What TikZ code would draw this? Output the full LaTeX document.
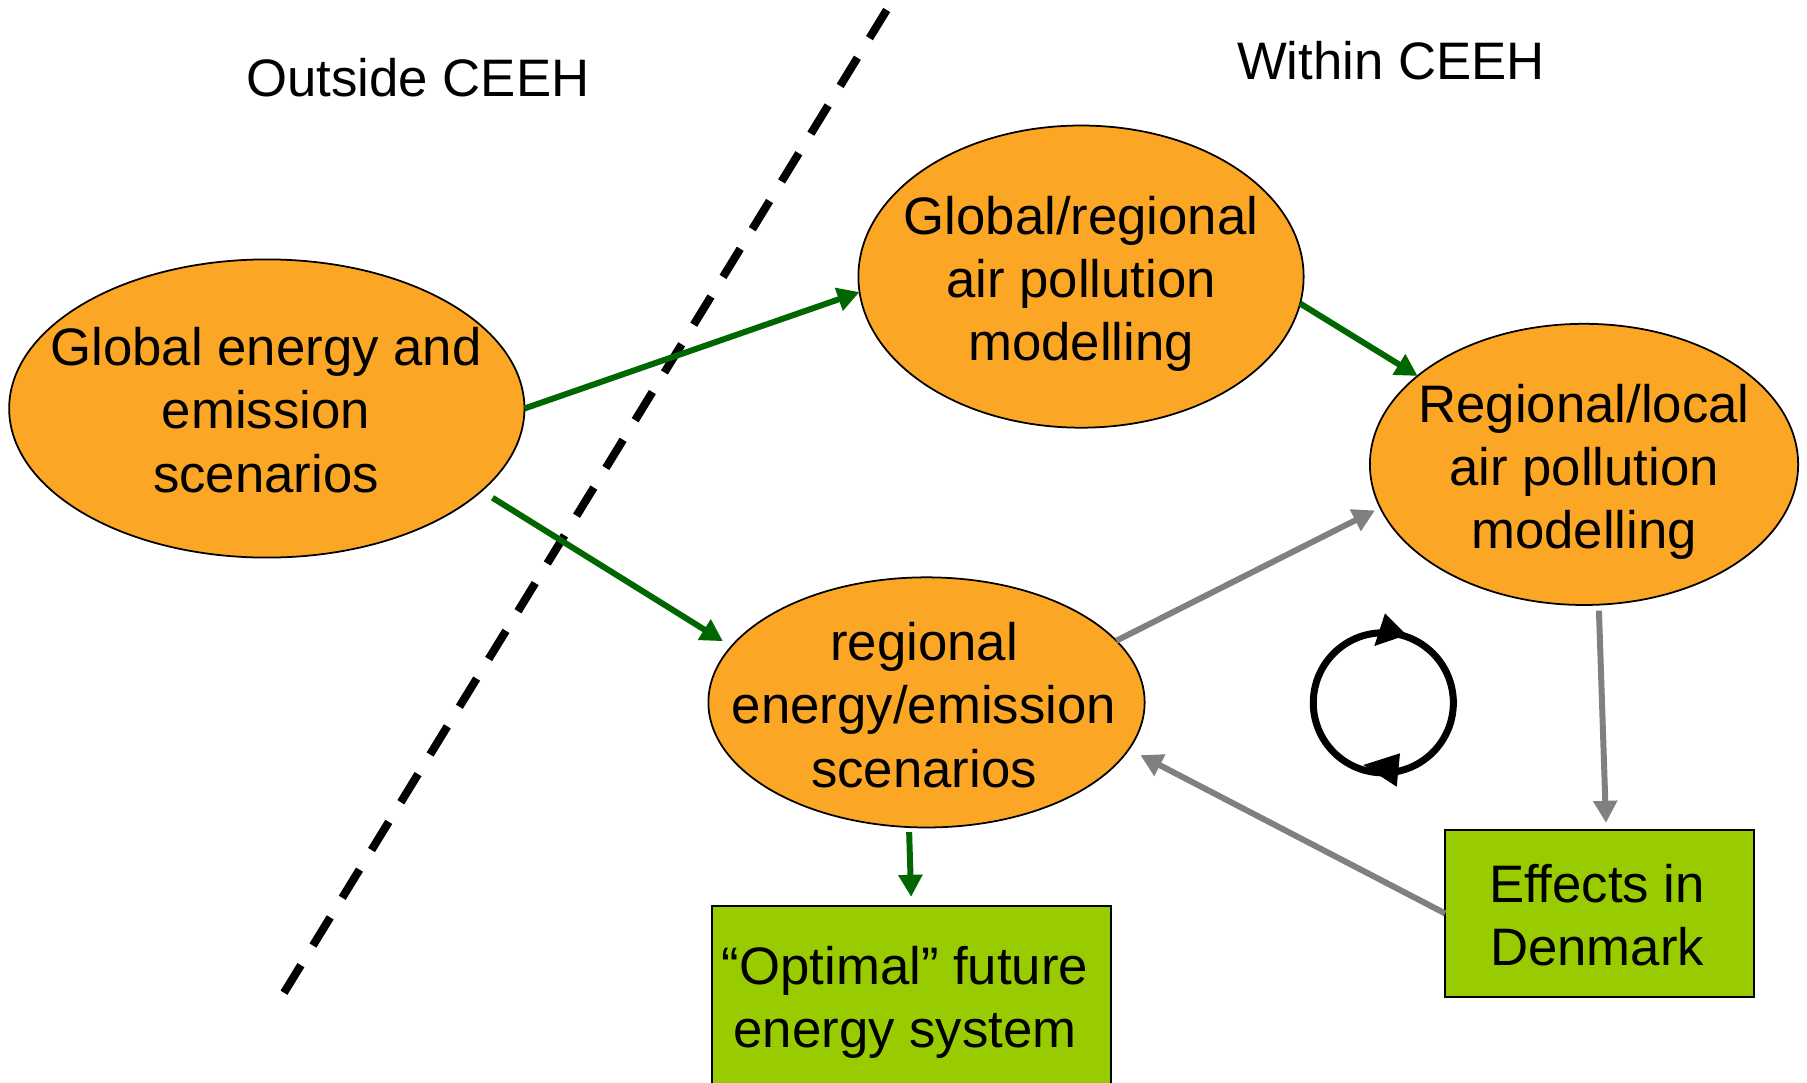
\documentclass[tikz,border=0pt]{standalone}
\usepackage{fontspec}
\setmainfont{Liberation Sans}
\usetikzlibrary{shapes.geometric,arrows.meta,calc}
\definecolor{blobfill}{RGB}{252,166,38}
\definecolor{boxfill}{RGB}{153,204,0}
\definecolor{flowgreen}{RGB}{0,102,0}
\definecolor{flowgray}{RGB}{128,128,128}
\begin{document}
\begin{tikzpicture}[x=0.01cm,y=-0.01cm,
  blob/.style={ellipse,draw=black,line width=0.5pt,fill=blobfill,inner sep=0pt,outer sep=0pt},
  resultbox/.style={rectangle,draw=black,line width=0.6pt,fill=boxfill,inner sep=0pt,outer sep=0pt},
  caption/.style={align=center,font=\fontsize{15}{18}\selectfont,inner sep=0pt},
  greenflow/.style={draw=flowgreen,line width=1.7pt,-{Triangle[length=0.22cm,width=0.23cm]}},
  grayflow/.style={draw=flowgray,line width=1.7pt,-{Triangle[length=0.22cm,width=0.23cm]}},
]
\useasboundingbox (0,0) rectangle (1807,1082);
\clip (0,0) rectangle (1807,1082);
\fill[white] (0,0) rectangle (1807,1082);

% boundary between outside and within the centre
\coordinate (dtop) at (886.7,10);
\coordinate (dbot) at (284,992.7);
\draw[line width=2.3pt,dash pattern=on 0.33cm off 0.2299cm] (dtop) -- (dbot);

\node[caption] (outside) at (418,78) {Outside CEEH};
\node[caption] (within) at (1391,61) {Within CEEH};

% scenario and modelling ellipses
\node[blob,minimum width=5.15cm,minimum height=2.98cm] (e1) at (266.8,408.5) {};
\node[blob,minimum width=4.45cm,minimum height=3.02cm] (e2) at (1081,276.6) {};
\node[blob,minimum width=4.28cm,minimum height=2.81cm] (e3) at (1584,464.4) {};
\node[blob,minimum width=4.36cm,minimum height=2.50cm] (e4) at (926.5,702.4) {};

\node[caption] (t1) at (266,410) {Global energy and\\emission\\scenarios};
\node[caption] (t2) at (1081,284) {Global/regional\\air pollution\\modelling};
\node[caption] (t3) at (1584,472) {Regional/local\\air pollution\\modelling};
\node[caption] (t4) at (924,705) {regional\\energy/emission\\scenarios};

% result boxes
\node[resultbox,minimum width=3.99cm,minimum height=1.83cm] (b1) at (911.4,997.4) {};
\node[resultbox,minimum width=3.09cm,minimum height=1.67cm] (b2) at (1599.7,913.4) {};
\node[caption] (t5) at (905,1002) {“Optimal” future\\energy system};
\node[caption] (t6) at (1597,915) {Effects in\\Denmark};

% flows
\draw[greenflow] (e1.east) -- (e2.184);
\draw[greenflow,shorten <=0.13cm,shorten >=0.1cm] (e1.-21) -- (e4.164);
\draw[greenflow] (e2.-7) -- (e3.152);
\draw[greenflow,shorten <=0.05cm,shorten >=0.09cm] (e4.262) -- (b1.north);
\draw[grayflow,shorten >=0.06cm] (e4.18) -- (e3.192);
\draw[grayflow,shorten <=0.06cm,shorten >=0.07cm] (e3.276) -- ([xshift=0.065cm]b2.north);
\draw[grayflow,shorten >=0.13cm] (b2.west) -- (e4.-13);

% feedback cycle symbol
\coordinate (cyc) at (1383.3,702.8);
\draw[line width=0.07cm] (cyc) circle[radius=0.70cm];
\fill ($(cyc)+(23.4,-67.8)$) -- ($(cyc)+(1.7,-89.5)$) -- ($(cyc)+(-9,-56.8)$) -- cycle;
\fill ($(cyc)+(-20,62.2)$) -- ($(cyc)+(16.7,50.5)$) -- ($(cyc)+(13.4,83.9)$) -- cycle;
\end{tikzpicture}
\end{document}
